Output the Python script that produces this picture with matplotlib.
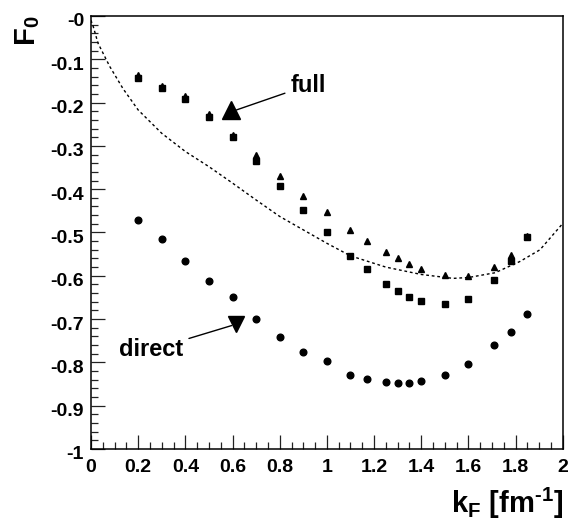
import numpy as np
import matplotlib
matplotlib.use("Agg")
import matplotlib.pyplot as plt
import matplotlib.transforms as mtransforms
from matplotlib.ticker import MultipleLocator

# data
k_pts = [0.2, 0.3, 0.4, 0.5, 0.6, 0.7, 0.8, 0.9, 1.0, 1.1, 1.17, 1.25, 1.3,
         1.35, 1.4, 1.5, 1.6, 1.71, 1.78, 1.85]
F_full_tri = [-0.136, -0.162, -0.186, -0.227, -0.275, -0.321, -0.369, -0.415,
              -0.453, -0.495, -0.519, -0.545, -0.560, -0.572, -0.584, -0.599,
              -0.600, -0.579, -0.553, -0.508]
F_full_sq = [-0.143, -0.167, -0.192, -0.233, -0.280, -0.334, -0.392, -0.448,
             -0.498, -0.554, -0.585, -0.619, -0.636, -0.649, -0.659, -0.666,
             -0.653, -0.609, -0.565, -0.511]
F_direct = [-0.471, -0.514, -0.566, -0.612, -0.648, -0.700, -0.741, -0.775,
            -0.797, -0.828, -0.838, -0.846, -0.848, -0.848, -0.843, -0.828,
            -0.804, -0.761, -0.729, -0.688]

k_curve = [0.0, 0.01, 0.03, 0.08, 0.136, 0.2, 0.3, 0.4, 0.5, 0.6, 0.7, 0.8,
           0.9, 1.0, 1.1, 1.25, 1.4, 1.535, 1.6, 1.713, 1.818, 1.903, 2.0]
F_curve = [-0.01, -0.025, -0.063, -0.117, -0.168, -0.217, -0.271, -0.313,
           -0.348, -0.386, -0.425, -0.463, -0.494, -0.525, -0.554, -0.580,
           -0.597, -0.606, -0.604, -0.593, -0.567, -0.540, -0.479]

# big key symbols
key_full = (0.593, -0.217)
key_direct = (0.613, -0.711)

x_ticks = [0, 0.2, 0.4, 0.6, 0.8, 1.0, 1.2, 1.4, 1.6, 1.8, 2.0]
x_ticklabels = ["0", "0.2", "0.4", "0.6", "0.8", "1", "1.2", "1.4", "1.6", "1.8", "2"]
y_ticks = [0, -0.1, -0.2, -0.3, -0.4, -0.5, -0.6, -0.7, -0.8, -0.9, -1.0]
y_ticklabels = ["-0", "-0.1", "-0.2", "-0.3", "-0.4", "-0.5", "-0.6", "-0.7",
                "-0.8", "-0.9", "-1"]

plt.rcParams["font.family"] = ["Liberation Sans", "DejaVu Sans"]
plt.rcParams["font.weight"] = "bold"
plt.rcParams["mathtext.fontset"] = "custom"
plt.rcParams["mathtext.rm"] = "Liberation Sans:bold"
plt.rcParams["mathtext.bf"] = "Liberation Sans:bold"

fig = plt.figure(figsize=(5.72, 5.23), dpi=100)
ax = fig.add_axes([0.159, 0.1415, 0.825, 0.828])

ax.plot(k_curve, F_curve, color="black", lw=1.0, ls=(0, (2, 2)))
ax.plot(k_pts, F_full_sq, ls="none", marker="s", ms=4.3, color="black")
ax.plot(k_pts, F_full_tri, ls="none", marker="^", ms=5.0, color="black")
ax.plot(k_pts, F_direct, ls="none", marker="o", ms=4.8, color="black")

ax.plot(*key_full, marker="^", ms=13, color="black")
ax.plot(*key_direct, marker="v", ms=12, color="black")

ax.annotate("full", xy=(0.617, -0.217), xytext=(0.845, -0.16),
            fontsize=17, fontweight="bold", ha="left", va="center",
            arrowprops=dict(arrowstyle="-", color="black", lw=1.0,
                            shrinkA=2, shrinkB=0))
ax.annotate("direct", xy=(0.596, -0.715), xytext=(0.12, -0.771),
            fontsize=17, fontweight="bold", ha="left", va="center",
            arrowprops=dict(arrowstyle="-", color="black", lw=1.0,
                            shrinkA=2, shrinkB=0))

ax.set_xlim(0, 2)
ax.set_ylim(-1, 0)
ax.set_xticks(x_ticks)
ax.set_xticklabels(x_ticklabels)
ax.set_yticks(y_ticks)
ax.set_yticklabels(y_ticklabels)
ax.xaxis.set_minor_locator(MultipleLocator(0.05))
ax.yaxis.set_minor_locator(MultipleLocator(0.02))
ax.tick_params(which="both", direction="in", top=False, right=False,
               labelsize=14, width=0.9, color="#222222")
ax.tick_params(axis="x", which="major", length=10, pad=7)
ax.tick_params(axis="y", which="major", length=10, pad=5)
ax.tick_params(which="minor", length=5)
for s in ax.spines.values():
    s.set_linewidth(1.1)

# labels in ROOT sit a little below their ticks
shift = mtransforms.ScaledTranslation(0, -4 / 100, fig.dpi_scale_trans)
for lab in ax.get_yticklabels():
    lab.set_transform(lab.get_transform() + shift)

ax.set_xlabel(r"k$_\mathregular{F}$ [fm$^\text{-1}$]", fontsize=21,
              fontweight="bold", loc="right", labelpad=7)
ax.set_ylabel(r"F$_\mathregular{0}$", fontsize=21, fontweight="bold",
              loc="top", labelpad=6)

fig.savefig("out.png", dpi=100)
